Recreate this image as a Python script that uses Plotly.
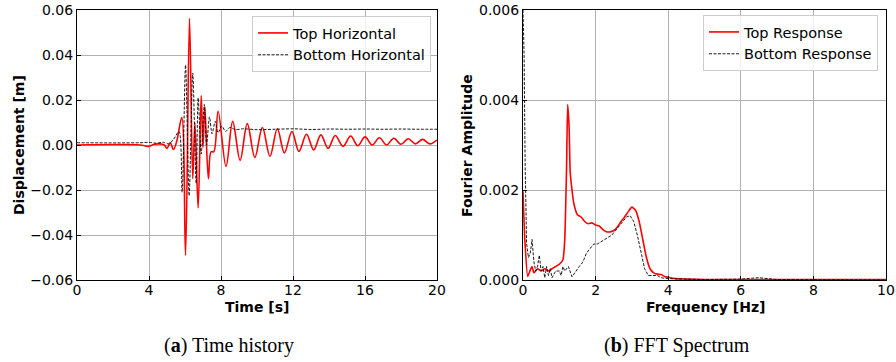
import plotly.graph_objects as go

# ---- Time history data ----
t_top = [0, 3.5, 3.97, 4.3, 4.6, 4.85, 5.0, 5.18, 5.36, 5.55, 5.82, 6.03, 6.25, 6.43, 6.55,
         6.73, 6.9, 7.0, 7.1, 7.3, 7.45, 7.6, 7.84, 8.28, 8.65, 9.06, 9.46, 9.88, 10.3, 10.72,
         11.13, 11.52, 11.94, 12.33, 12.75, 13.15, 13.55, 13.95, 14.35, 14.78, 15.2, 15.6,
         16.0, 16.4, 16.8, 17.2, 17.6, 18.0, 18.4, 18.8, 19.2, 19.6, 20.0]
d_top = [0.0, 0.0, -0.0006, 0.0003, 0.0005, 0.0, -0.0015, 0.001, -0.002, 0.002, 0.0122,
         -0.049, 0.0563, -0.015, 0.010, -0.028, 0.022, -0.001, 0.017, -0.015, -0.003, -0.003,
         0.015, -0.0095, 0.0105, -0.0068, 0.0095, -0.0055, 0.0078, -0.005, 0.0072, -0.0035,
         0.006, -0.0028, 0.0048, -0.0022, 0.0045, -0.0015, 0.0042, -0.0006, 0.004, -0.0003,
         0.0036, 0.0, 0.0032, 0.0, 0.003, 0.0003, 0.0028, 0.0005, 0.0025, 0.0005, 0.0022]

t_bot = [0, 3.5, 4.0, 4.4, 4.8, 5.1, 5.36, 5.67, 5.84, 6.03, 6.23, 6.43, 6.62, 6.73, 6.9,
         7.07, 7.2, 7.36, 7.5, 7.68, 7.84, 8.05, 8.25, 8.5, 8.8, 9.2, 10.0, 11.0, 12.0, 13.0,
         14.0, 15.0, 16.0, 17.0, 18.0, 19.0, 20.0]
d_bot = [0.001, 0.001, 0.0012, 0.0008, 0.0012, 0.0005, 0.0025, 0.006, -0.021, 0.0355, -0.0225,
         0.032, -0.017, 0.021, -0.004, 0.018, 0.0, 0.0125, 0.005, 0.0105, 0.0055, 0.0085,
         0.006, 0.0078, 0.0068, 0.0072, 0.0068, 0.0070, 0.0072, 0.0069, 0.0071, 0.0070,
         0.0071, 0.0070, 0.0071, 0.0070, 0.0070]

# ---- FFT data ----
f_top = [0.0, 0.05, 0.13, 0.2, 0.25, 0.3, 0.4, 0.5, 0.6, 0.7, 0.8, 0.9, 1.0, 1.1, 1.15,
         1.2, 1.23, 1.27, 1.3, 1.35, 1.4, 1.5, 1.6, 1.7, 1.8, 1.9, 2.0, 2.1, 2.2, 2.3, 2.4,
         2.5, 2.6, 2.7, 2.8, 2.9, 3.0, 3.1, 3.2, 3.3, 3.4, 3.5, 3.6, 3.7, 3.8, 3.9, 4.0,
         4.2, 4.5, 5.0, 6.0, 7.0, 8.0, 10.0]
a_top = [0.00197, 0.0009, 0.00008, 0.00022, 0.0003, 0.00016, 0.00025, 0.0002, 0.00025,
         0.0002, 0.00025, 0.0003, 0.00035, 0.00045, 0.0009, 0.0025, 0.0039, 0.0034, 0.0024,
         0.002, 0.0017, 0.00145, 0.0014, 0.0013, 0.00125, 0.00127, 0.00122, 0.0012, 0.00112,
         0.00107, 0.00107, 0.0011, 0.00118, 0.0013, 0.0014, 0.00152, 0.00162, 0.00155,
         0.0013, 0.0009, 0.0005, 0.00025, 0.00016, 0.00013, 0.00012, 0.00008, 0.00006,
         0.00003, 0.00002, 0.00001, 0.00001, 0.00001, 0.00001, 0.00001]

f_bot = [0.0, 0.03, 0.06, 0.1, 0.15, 0.2, 0.25, 0.3, 0.35, 0.4, 0.45, 0.5, 0.55, 0.6, 0.65,
         0.7, 0.75, 0.8, 0.9, 1.0, 1.05, 1.1, 1.15, 1.25, 1.35, 1.45, 1.55, 1.65, 1.75, 1.85,
         1.95, 2.05, 2.15, 2.25, 2.35, 2.45, 2.55, 2.65, 2.75, 2.85, 2.95, 3.05, 3.15, 3.25,
         3.35, 3.45, 3.55, 3.7, 3.8, 4.0, 5.0, 6.0, 6.3, 6.5, 7.0, 10.0]
a_bot = [0.006, 0.005, 0.0025, 0.0008, 0.0005, 0.0006, 0.0009, 0.0004, 0.0002, 0.0003,
         0.00055, 0.0002, 0.0003, 0.00005, 0.0003, 0.0001, 0.00025, 0.00005, 0.0002, 0.0002,
         0.0001, 0.0003, 0.0002, 0.0003, 0.00007, 0.0002, 0.0003, 0.0004, 0.0006, 0.0007,
         0.0008, 0.0008, 0.00085, 0.0009, 0.00095, 0.001, 0.0011, 0.0012, 0.0013, 0.0014,
         0.00143, 0.0013, 0.001, 0.0006, 0.00025, 0.0001, 0.0001, 0.0001, 0.00005, 0.00003,
         0.00001, 0.00002, 0.00004, 0.00005, 0.00001, 0.0]

x_ticks_left = [0, 4, 8, 12, 16, 20]
y_ticks_left = [-0.06, -0.04, -0.02, 0.0, 0.02, 0.04, 0.06]
x_ticks_right = [0, 2, 4, 6, 8, 10]
y_ticks_right = [0.0, 0.002, 0.004, 0.006]

FONT = "DejaVu Sans"
RED = "#ff0000"

fig = go.Figure()
fig.add_trace(go.Scatter(x=t_top, y=d_top, mode="lines", name="Top Horizontal",
                         line=dict(color=RED, width=1.6, shape="spline", smoothing=1.0),
                         xaxis="x", yaxis="y", legend="legend"))
fig.add_trace(go.Scatter(x=t_bot, y=d_bot, mode="lines", name="Bottom Horizontal",
                         line=dict(color="black", width=0.9, dash="3px,1.5px", shape="spline", smoothing=0.8),
                         xaxis="x", yaxis="y", legend="legend"))
fig.add_trace(go.Scatter(x=f_top, y=a_top, mode="lines", name="Top Response",
                         line=dict(color=RED, width=1.6, shape="spline", smoothing=0.5),
                         xaxis="x2", yaxis="y2", legend="legend2"))
fig.add_trace(go.Scatter(x=f_bot, y=a_bot, mode="lines", name="Bottom Response",
                         line=dict(color="black", width=0.9, dash="3px,1.5px"),
                         xaxis="x2", yaxis="y2", legend="legend2"))

axis_common = dict(showline=True, linecolor="black", linewidth=1.2, mirror=True,
                   ticks="inside", ticklen=4, tickcolor="black", showgrid=True,
                   gridcolor="#b0b0b0", gridwidth=1, zeroline=False, automargin=False,
                   tickfont=dict(family=FONT, size=14, color="black"))

ytop = 1 - 10 / 362
ybot = 1 - 280 / 362

leg_common = dict(xanchor="left", yanchor="top", bgcolor="rgba(255,255,255,0.8)",
                  bordercolor="#cccccc", borderwidth=1, itemwidth=30,
                  font=dict(family=FONT, size=14.5, color="black"), tracegroupgap=0)

fig.update_layout(
    template="none",
    width=896, height=362, autosize=False, margin=dict(l=0, r=0, t=0, b=0, pad=0),
    plot_bgcolor="white", paper_bgcolor="white",
    xaxis=dict(domain=[77 / 896, 437 / 896], range=[0, 20], tickvals=x_ticks_left,
               anchor="y", ticklabelstandoff=-3, **axis_common),
    yaxis=dict(domain=[ybot, ytop], range=[-0.06, 0.06], tickvals=y_ticks_left,
               tickformat=".2f", anchor="x", **axis_common),
    xaxis2=dict(domain=[523 / 896, 886 / 896], range=[0, 10], tickvals=x_ticks_right,
                anchor="y2", ticklabelstandoff=-3, **axis_common),
    yaxis2=dict(domain=[ybot, ytop], range=[0, 0.006], tickvals=y_ticks_right,
                tickformat=".3f", anchor="x2", **axis_common),
    legend=dict(x=252 / 896, y=1 - 16 / 362, **leg_common),
    legend2=dict(x=703 / 896, y=1 - 15 / 362, **leg_common),
    showlegend=True,
)

title_font = dict(family=FONT, size=14, color="black")
cap_font = dict(family="Liberation Serif", size=20, color="black")
fig.add_annotation(text="<b>Time [s]</b>", x=257 / 896, y=1 - 307 / 362, xref="paper", yref="paper",
                   showarrow=False, font=title_font, xanchor="center", yanchor="middle")
fig.add_annotation(text="<b>Frequency [Hz]</b>", x=705 / 896, y=1 - 307 / 362, xref="paper", yref="paper",
                   showarrow=False, font=title_font, xanchor="center", yanchor="middle")
fig.add_annotation(text="<b>Displacement [m]</b>", x=19 / 896, y=1 - 145 / 362, xref="paper", yref="paper",
                   showarrow=False, font=title_font, textangle=-90, xanchor="center", yanchor="middle")
fig.add_annotation(text="<b>Fourier Amplitude</b>", x=467 / 896, y=1 - 145 / 362, xref="paper", yref="paper",
                   showarrow=False, font=title_font, textangle=-90, xanchor="center", yanchor="middle")
fig.add_annotation(text="(<b>a</b>) Time history", x=229 / 896, y=1 - 345 / 362, xref="paper", yref="paper",
                   showarrow=False, font=cap_font, xanchor="center", yanchor="middle")
fig.add_annotation(text="(<b>b</b>) FFT Spectrum", x=677 / 896, y=1 - 345 / 362, xref="paper", yref="paper",
                   showarrow=False, font=cap_font, xanchor="center", yanchor="middle")

fig.write_html("out.html")
